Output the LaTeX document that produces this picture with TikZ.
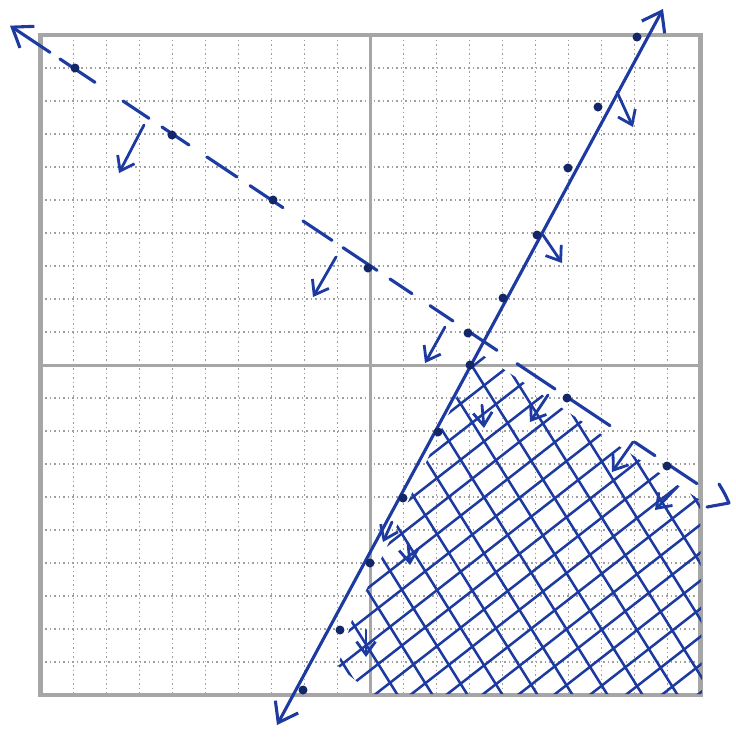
\documentclass[tikz,border=0pt]{standalone}
\usetikzlibrary{arrows.meta}
\definecolor{pen}{RGB}{28,58,160}
\tikzset{
  endtip/.tip={Straight Barb[length=18pt,width=26pt]},
  tsttip/.tip={Straight Barb[length=13pt,width=19pt]},
  pen/.style={draw=pen, line width=3.1pt, line cap=round, line join=round},
  tst/.style={pen, line width=2.8pt, -tsttip},
  gridl/.style={draw=gray!75, line width=1.5pt, dash pattern=on 1.5pt off 3pt},
  axisl/.style={draw=gray!70, line width=3pt},
  hatch/.style={draw=pen, line width=2.5pt, line cap=round},
  dotm/.style={fill=pen!65!black},
  declare function={dy(\x)=266+(\x-370.5)*2/3;}
}
\begin{document}
\begin{tikzpicture}[x=1pt,y=-1pt]
\useasboundingbox (0,0) rectangle (736,737);
\fill[white] (0,0) rectangle (736,737);
% grid
\foreach \k in {-10,...,10} {
  \draw[gridl] ({370.5+33*\k},35) -- ({370.5+33*\k},695);
  \draw[gridl] (40.5,{365+33*\k}) -- (700.5,{365+33*\k});
}
\draw[axisl] (370.5,35) -- (370.5,695);
\draw[axisl] (40.5,365) -- (700.5,365);
\draw[draw=gray!70, line width=4.5pt] (40.5,35) rectangle (700.5,695);

% hatching of the solution region
\begin{scope}
  \clip (478,352) -- (700,500) -- (702,694) -- (372,694) -- (338,666) -- (352,620) -- (402,515) -- (440,432) -- cycle;
  \foreach \k in {-8,...,9}
    \draw[hatch] ({392+35*\k-31.25},300) -- ({392+35*\k+231.25},720);
  \foreach \k in {-12,...,7}
    \draw[hatch] (330,{731+28*\k+0.78*70}) -- (720,{731+28*\k-0.78*320});
\end{scope}

% solid boundary line
\coordinate (sA) at (277,725);
\coordinate (sB) at (663,9);
\draw[pen, endtip-endtip] (sA) -- (sB);
\foreach \p in {(303,690),(340,630),(370,563),(403,498),(438,432),(470,365),(503,298),(537,235),(568,168),(598,107),(637,37)}
  \fill[dotm] \p circle (4.5pt);

% dashed boundary line (hand-drawn dashes)
\draw[pen, endtip-] (10,{dy(10)}) -- (50,{dy(50)});
\foreach \a/\b in {60/95,123/149,162/189,207/237,250/283,303/332,343/377,390/412,430/453,467/497,517/555,567/610,635/655,667/697}
  \draw[pen] (\a,{dy(\a)}) -- (\b,{dy(\b)});
\draw[pen] (719,484) .. controls (725,494) .. (729,503) -- (707,507);
\foreach \p in {(75,68),(172,135),(273,200),(368,268),(468,333),(567,398),(667,466)}
  \fill[dotm] \p circle (4.5pt);

% test arrows
\draw[tst] (144,125) -- (119,173);
\draw[tst] (336,257) -- (313,297);
\draw[tst] (445,327) -- (425,363);
\draw[tst] (548,395) -- (530,422);
\draw[tst] (633,442) -- (612,472);
\draw[tst] (677,487) -- (655,510);
\draw[tst] (617,92) -- (633,127);
\draw[tst] (543,235) -- (562,263);
\draw[tst] (482,405) -- (484,428);
\draw[tst] (408,543) -- (410,565);
\draw[tst] (366,630) -- (366,657);
\draw[tst] (392,522) -- (383,542);
\end{tikzpicture}
\end{document}
